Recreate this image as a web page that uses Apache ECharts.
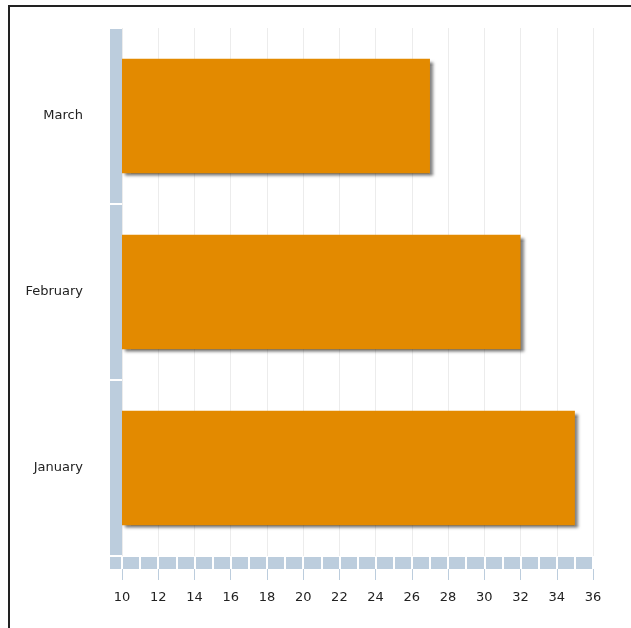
<!DOCTYPE html>
<html>
<head>
<meta charset="utf-8">
<script src="https://cdn.jsdelivr.net/npm/echarts@6/dist/echarts.min.js"></script>
<style>
  html, body { margin: 0; padding: 0; background: #fff; }
  #main { width: 631px; height: 628px; }
  #frame { position: absolute; left: 8px; top: 5px; width: 640px; height: 640px;
           border-left: 2px solid #222; border-top: 2px solid #222; pointer-events: none; }
</style>
</head>
<body>
<div id="main"></div>
<div id="frame"></div>
<script>
// 資料
const months = ['January', 'February', 'March'];
const values = [35, 32, 27];
const xMin = 10;
const xMax = 36;

const bandColor = '#bccddd';
const labelFont = { color: '#222', fontSize: 13, fontFamily: 'DejaVu Sans' };
const myChart = echarts.init(document.getElementById('main'));

const option = {
    animation: false,
    grid: { left: 122, right: 38, top: 28, bottom: 72 },
    xAxis: [
        {
            // 刻度標籤與網格線
            type: 'value', min: xMin, max: xMax, interval: 2,
            position: 'bottom', offset: 13,
            axisLine: { show: false },
            axisTick: { show: true, length: 11, lineStyle: { color: bandColor, width: 1 } },
            axisLabel: Object.assign({ margin: 22 }, labelFont),
            splitLine: { show: true, lineStyle: { color: '#ececec', width: 1 } }
        },
        {
            // 粗色帶
            type: 'value', min: xMin, max: xMax, interval: 1,
            position: 'bottom', offset: 7,
            axisLine: {
                show: true,
                lineStyle: { color: bandColor, width: 12, cap: 'butt' },
                symbol: ['rect', 'none'], symbolSize: [12, 12], symbolOffset: [-6, 0]
            },
            axisTick: { show: false }, axisLabel: { show: false }, splitLine: { show: false }
        },
        {
            // 色帶上的白色間隔
            type: 'value', min: xMin, max: xMax, interval: 1,
            position: 'bottom', offset: 13, z: 5,
            axisLine: { show: false },
            axisTick: { show: true, inside: true, length: 13, lineStyle: { color: '#fff', width: 2 } },
            axisLabel: { show: false }, splitLine: { show: false }
        }
    ],
    yAxis: [
        {
            type: 'category', data: months, position: 'left', offset: 6,
            axisLine: { show: true, lineStyle: { color: bandColor, width: 12, cap: 'butt' } },
            axisTick: { show: false }, axisLabel: { show: false }
        },
        {
            type: 'category', data: months, position: 'left', offset: 12, z: 5,
            axisLine: { show: false },
            axisTick: { show: true, inside: true, length: 12, lineStyle: { color: '#fff', width: 2 } },
            axisLabel: Object.assign({ margin: 27 }, labelFont)
        }
    ],
    series: [
        {
            type: 'bar',
            data: values,
            barWidth: '65%',
            itemStyle: {
                color: '#e38a00',
                shadowColor: 'rgba(0,0,0,0.55)',
                shadowBlur: 3,
                shadowOffsetX: 3,
                shadowOffsetY: 3
            }
        }
    ]
};

myChart.setOption(option);
</script>
</body>
</html>
